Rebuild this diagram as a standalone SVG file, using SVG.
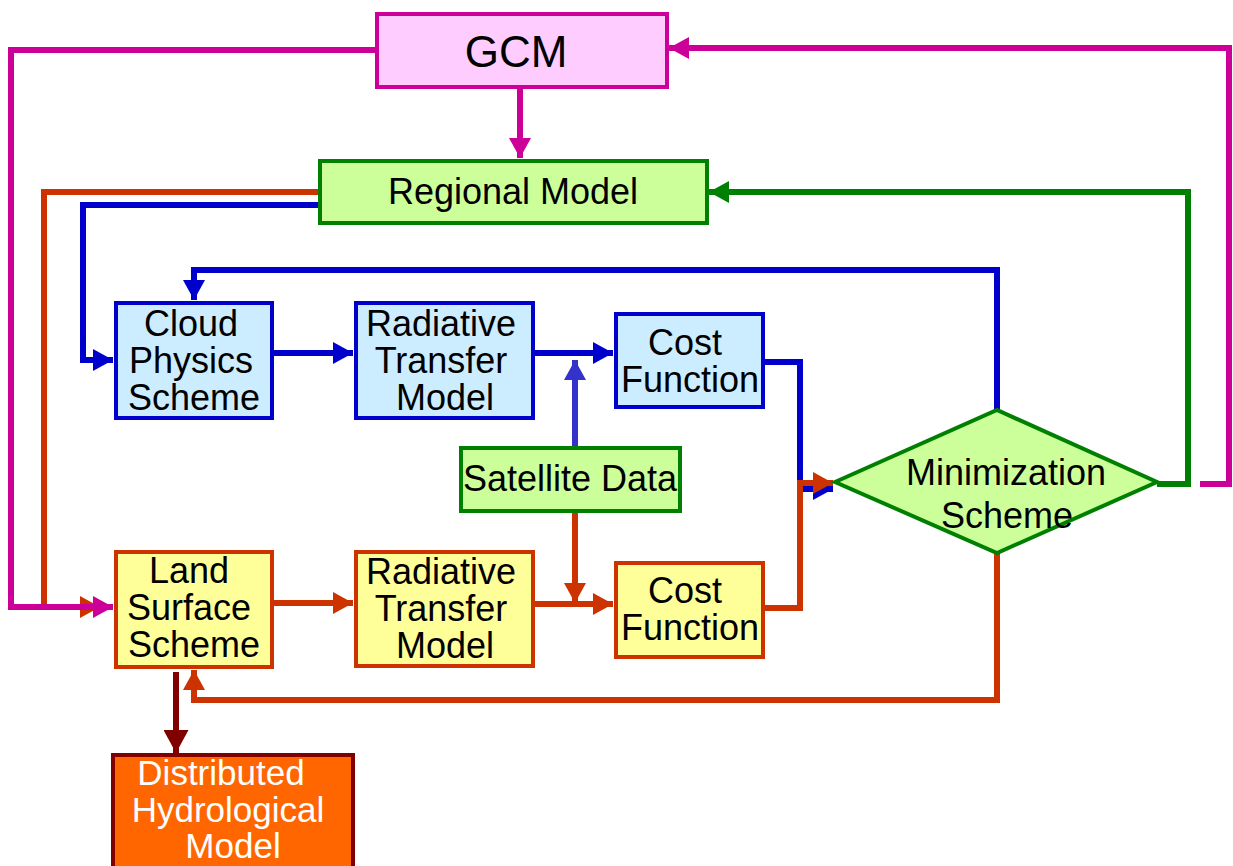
<svg xmlns="http://www.w3.org/2000/svg" width="1233" height="866" viewBox="0 0 1233 866">
<style>
text{font-family:"Liberation Sans",Arial,sans-serif;font-size:36px;fill:#000;text-anchor:middle}
.box{stroke-width:4}
.c{fill:none;stroke-width:6;stroke-linejoin:miter}
.w{fill:#fff;font-size:35px}
</style>
<defs>
<marker id="aM" markerUnits="userSpaceOnUse" viewBox="0 0 20 22" refX="20" refY="11" markerWidth="20" markerHeight="22" orient="auto"><path d="M0,0L20,11L0,22z" fill="#CC0099"/></marker>
<marker id="aO" markerUnits="userSpaceOnUse" viewBox="0 0 20 22" refX="20" refY="11" markerWidth="20" markerHeight="22" orient="auto"><path d="M0,0L20,11L0,22z" fill="#CC3300"/></marker>
<marker id="aB" markerUnits="userSpaceOnUse" viewBox="0 0 20 22" refX="20" refY="11" markerWidth="20" markerHeight="22" orient="auto"><path d="M0,0L20,11L0,22z" fill="#0000CC"/></marker>
<marker id="aP" markerUnits="userSpaceOnUse" viewBox="0 0 20 22" refX="20" refY="11" markerWidth="20" markerHeight="22" orient="auto"><path d="M0,0L20,11L0,22z" fill="#3333CC"/></marker>
<marker id="aG" markerUnits="userSpaceOnUse" viewBox="0 0 20 22" refX="20" refY="11" markerWidth="20" markerHeight="22" orient="auto"><path d="M0,0L20,11L0,22z" fill="#008000"/></marker>
<marker id="aR" markerUnits="userSpaceOnUse" viewBox="0 0 23 25" refX="23" refY="12.5" markerWidth="23" markerHeight="25" orient="auto"><path d="M0,0L23,12.5L0,25z" fill="#800000"/></marker>
</defs>
<rect width="1233" height="866" fill="#fff"/>
<g id="connectors">
<path class="c" d="M320,192H44V607H100" stroke="#CC3300" marker-end="url(#aO)"/>
<path class="c" d="M376,50H11V607H113" stroke="#CC0099" stroke-width="5" marker-end="url(#aM)"/>
<path class="c" d="M520,87V158" stroke="#CC0099" marker-end="url(#aM)"/>
<path class="c" d="M320,205H83V360H113" stroke="#0000CC" marker-end="url(#aB)"/>
<path class="c" d="M272,353H353" stroke="#0000CC" marker-end="url(#aB)"/>
<path class="c" d="M533,353H613" stroke="#0000CC" marker-end="url(#aB)"/>
<path class="c" d="M575,447V360" stroke="#3333CC" marker-end="url(#aP)"/>
<path class="c" d="M763,362H800V489H833" stroke="#0000CC" marker-end="url(#aB)"/>
<path class="c" d="M763,608H800V483H833" stroke="#CC3300" marker-end="url(#aO)"/>
<path class="c" d="M997,410V270H194V300" stroke="#0000CC" marker-end="url(#aB)"/>
<path class="c" d="M1157,484H1188V192H709" stroke="#008000" stroke-width="7" marker-end="url(#aG)"/>
<path class="c" d="M1200,484H1229V48H669" stroke="#CC0099" stroke-width="5" marker-end="url(#aM)"/>
<path class="c" d="M997,553V700H194V670" stroke="#CC3300" marker-end="url(#aO)"/>
<path class="c" d="M272,603H353" stroke="#CC3300" marker-end="url(#aO)"/>
<path class="c" d="M533,604H613" stroke="#CC3300" marker-end="url(#aO)"/>
<path class="c" d="M575,511V603" stroke="#CC3300" marker-end="url(#aO)"/>
<path class="c" d="M176,672V753" stroke="#800000" stroke-width="8" marker-end="url(#aR)"/>
</g>
<g id="gcm"><rect class="box" x="377" y="14" width="290" height="73" fill="#FFCCFF" stroke="#CC0099"/><text x="516" y="67" style="font-size:44px">GCM</text></g>
<g id="regional"><rect class="box" x="320" y="161" width="387" height="62" fill="#CCFF99" stroke="#008000"/><text x="513" y="204">Regional Model</text></g>
<g id="cloud"><rect class="box" x="116" y="303" width="156" height="115" fill="#CCECFF" stroke="#0000CC"/><text x="191" y="336">Cloud</text><text x="191" y="373">Physics</text><text x="194" y="410">Scheme</text></g>
<g id="rtblue"><rect class="box" x="356" y="303" width="177" height="115" fill="#CCECFF" stroke="#0000CC"/><text x="441" y="336">Radiative</text><text x="441" y="373">Transfer</text><text x="445" y="410">Model</text></g>
<g id="costblue"><rect class="box" x="616" y="314" width="147" height="93" fill="#CCECFF" stroke="#0000CC"/><text x="685" y="355">Cost</text><text x="690" y="392">Function</text></g>
<g id="satellite"><rect class="box" x="461" y="448" width="219" height="63" fill="#CCFF99" stroke="#008000"/><text x="570" y="491">Satellite Data</text></g>
<g id="minimization"><path class="box" d="M835,482L997,410L1157,482L997,553Z" fill="#CCFF99" stroke="#008000"/><text x="1006" y="485">Minimization</text><text x="1007" y="528">Scheme</text></g>
<g id="land"><rect class="box" x="116" y="552" width="156" height="115" fill="#FFFF99" stroke="#CC3300"/><text x="189" y="583">Land</text><text x="189" y="620">Surface</text><text x="194" y="657">Scheme</text></g>
<g id="rtyellow"><rect class="box" x="356" y="552" width="177" height="114" fill="#FFFF99" stroke="#CC3300"/><text x="441" y="584">Radiative</text><text x="441" y="621">Transfer</text><text x="445" y="658">Model</text></g>
<g id="costyellow"><rect class="box" x="616" y="563" width="147" height="94" fill="#FFFF99" stroke="#CC3300"/><text x="685" y="603">Cost</text><text x="690" y="640">Function</text></g>
<g id="hydro"><rect class="box" x="113" y="755" width="240" height="120" fill="#FF6600" stroke="#800000"/><text class="w" x="221" y="785">Distributed</text><text class="w" x="228" y="822">Hydrological</text><text class="w" x="233" y="858">Model</text></g>
</svg>
